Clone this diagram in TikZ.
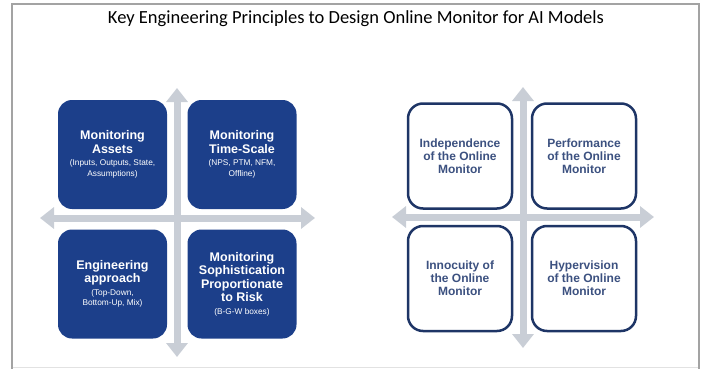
\documentclass[tikz,border=0pt]{standalone}
\usepackage{fontspec}
\setmainfont{Liberation Sans}
\newfontfamily\titlefont{Carlito}
\usetikzlibrary{arrows.meta}
\definecolor{framegray}{HTML}{A3A3A3}
\definecolor{framelight}{HTML}{E2E2E2}
\definecolor{boxnavy}{HTML}{1C3F8A}
\definecolor{edgenavy}{HTML}{1E3566}
\definecolor{textnavy}{HTML}{3C5180}
\definecolor{axisgray}{HTML}{C9CED6}

\newcommand{\subtxt}[1]{{\mdseries\fontsize{8.3}{9.5}\selectfont #1}}

\begin{document}
\begin{tikzpicture}[
  x=1pt,
  y=-1pt,
  solidbox/.style={fill=boxnavy, rounded corners=14pt, minimum width=109pt,
    minimum height=109pt, inner sep=2pt, text=white, align=center,
    font=\bfseries\fontsize{12.5}{13.5}\selectfont},
  openbox/.style={draw=edgenavy, line width=2.5pt, fill=white, rounded corners=15pt,
    minimum width=104pt, minimum height=105pt, inner sep=2pt, text=textnavy,
    align=center, font=\bfseries\fontsize{12}{13}\selectfont},
  axis/.style={draw=axisgray, line width=7pt,
    {Triangle[width=21pt,length=14pt]}-{Triangle[width=21pt,length=14pt]}}
]
  \useasboundingbox (0,0) rectangle (707,369);

  % frame
  \draw[framelight, line width=1pt] (12,367) -- (699,367);
  \draw[framegray, line width=1.5pt] (12,369) -- (12,4) -- (699,4) -- (699,369);

  \node[font=\titlefont\fontsize{18.5}{22}\selectfont] (title) at (356,19)
    {Key Engineering Principles to Design Online Monitor for AI Models};

  % left quadrant
  \coordinate (lt) at (177,88);
  \coordinate (lb) at (177,357);
  \coordinate (ll) at (40,218);
  \coordinate (lr) at (315,218);
  \draw[axis] (lt) -- (lb);
  \draw[axis] (ll) -- (lr);

  \node[solidbox] (assets) at (112.5,154.5)
    {Monitoring\\Assets\\[-1pt]\subtxt{(Inputs, Outputs, State,}\\[-3pt]\subtxt{Assumptions)}};
  \node[solidbox] (timescale) at (242,154.5)
    {Monitoring\\Time-Scale\\[-1pt]\subtxt{(NPS, PTM, NFM,}\\[-3pt]\subtxt{Offline)}};
  \node[solidbox] (approach) at (112.5,284)
    {Engineering\\approach\\[-1pt]\subtxt{(Top-Down,}\\[-3pt]\subtxt{Bottom-Up, Mix)}};
  \node[solidbox] (risk) at (242,284)
    {Monitoring\\Sophistication\\Proportionate\\to Risk\\[-1pt]\subtxt{(B-G-W boxes)}};

  % right quadrant
  \coordinate (rt) at (523,87);
  \coordinate (rb) at (523,348);
  \coordinate (rl) at (392,217);
  \coordinate (rr) at (654,217);
  \draw[axis] (rt) -- (rb);
  \draw[axis] (rl) -- (rr);

  \node[openbox] (independence) at (460,156)
    {Independence\\of the Online\\Monitor};
  \node[openbox] (performance) at (584,156)
    {Performance\\of the Online\\Monitor};
  \node[openbox] (innocuity) at (460,278.5)
    {Innocuity of\\the Online\\Monitor};
  \node[openbox] (hypervision) at (584,278.5)
    {Hypervision\\of the Online\\Monitor};
\end{tikzpicture}
\end{document}
